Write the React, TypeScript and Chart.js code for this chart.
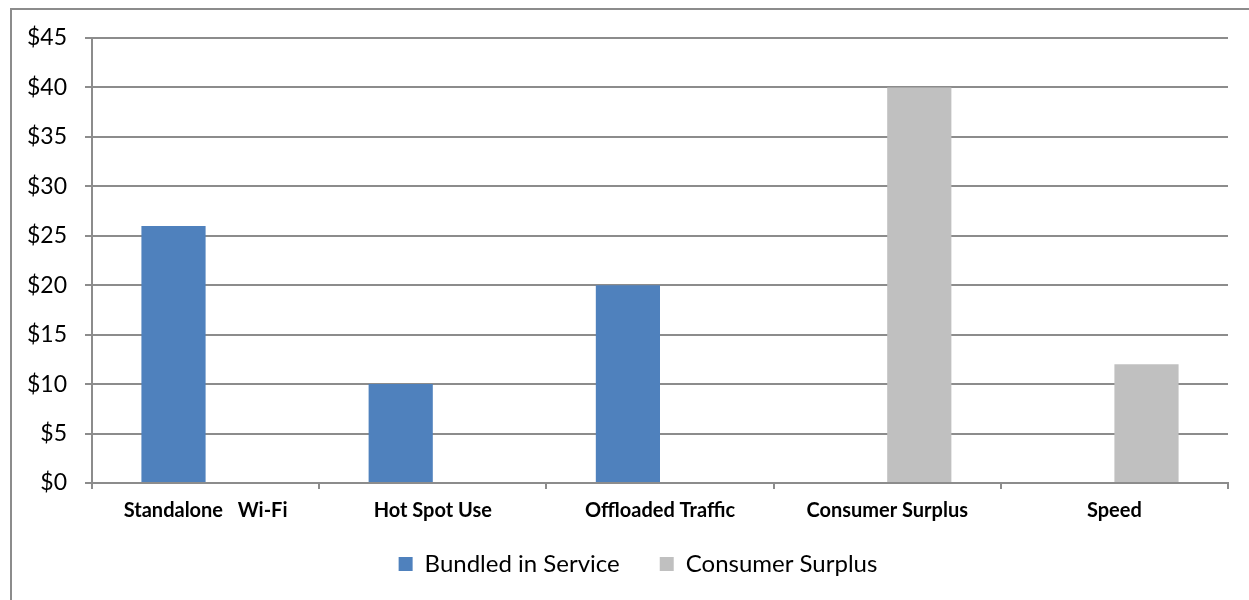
import React, { useEffect, useRef } from "react";
import { Chart, registerables } from "chart.js";

Chart.register(...registerables);

const categories = ["Standalone   Wi-Fi", "Hot Spot Use", "Offloaded Traffic", "Consumer Surplus", "Speed"];
const bundledInService = [26, 10, 20, null, null];
const consumerSurplus = [null, null, null, 40, 12];
const seriesNames = ["Bundled in Service", "Consumer Surplus"];
const yTicks = { min: 0, max: 45, step: 5 };

const FONT = "Lato, 'Liberation Sans', sans-serif";
const GRID = "#8c8c8c";
const LEGEND_PAD = 40;
const LEGEND_TRIM = 16;
const LEGEND_SHIFT = 18;

const legendTweak = {
  id: "legendTweak",
  afterInit(chart: any) {
    const legend = chart.legend;
    if (!legend) return;
    const orig = legend.fit;
    legend.fit = function () {
      orig.call(this);
      this.height -= LEGEND_TRIM;
    };
  },
  afterLayout(chart: any) {
    const legend = chart.legend;
    if (!legend) return;
    legend.top -= LEGEND_TRIM;
    legend.left += LEGEND_SHIFT;
    legend.right += LEGEND_SHIFT;
  },
};

export default function App() {
  const ref = useRef<HTMLCanvasElement | null>(null);
  useEffect(() => {
    if (!ref.current) return;
    const chart = new Chart(ref.current, {
      type: "bar",
      data: {
        labels: categories,
        datasets: [
          { label: seriesNames[0], data: bundledInService, backgroundColor: "#4F81BD" },
          { label: seriesNames[1], data: consumerSurplus, backgroundColor: "#C0C0C0" },
        ],
      },
      plugins: [legendTweak],
      options: {
        animation: false,
        responsive: false,
        maintainAspectRatio: false,
        layout: { padding: { left: 12, right: 21, top: 38, bottom: 14 } },
        datasets: { bar: { categoryPercentage: 0.565, barPercentage: 1.0 } },
        scales: {
          x: {
            grid: { drawOnChartArea: false, drawTicks: true, tickLength: 6, color: GRID, lineWidth: 2 },
            border: { color: GRID, width: 2 },
            ticks: { color: "#000", font: { family: FONT, size: 20, weight: "bold" }, padding: 10 },
            afterFit: (s: any) => { s.height = 45; },
          },
          y: {
            min: yTicks.min,
            max: yTicks.max,
            grid: { color: GRID, lineWidth: 2, tickLength: 7 },
            border: { color: GRID, width: 2 },
            ticks: {
              stepSize: yTicks.step,
              color: "#000",
              font: { family: FONT, size: 23 },
              padding: 18,
              callback: (v: any) => "$" + v,
            },
            afterFit: (s: any) => { s.width = 80; },
          },
        },
        plugins: {
          legend: {
            position: "bottom",
            labels: {
              boxWidth: 14,
              boxHeight: 14,
              color: "#000",
              padding: LEGEND_PAD,
              font: { family: FONT, size: 24 },
            },
          },
          tooltip: { enabled: false },
        },
      },
    });
    return () => chart.destroy();
  }, []);
  return (
    <div style={{ position: "fixed", left: 0, top: 0, width: 1249, height: 600, overflow: "hidden", background: "#fff" }}>
      <div style={{ position: "absolute", left: 10, top: 8, width: 1300, height: 700, border: "2px solid #8c8c8c", boxSizing: "border-box" }} />
      <canvas ref={ref} width={1249} height={600} style={{ position: "absolute", left: 0, top: 0 }} />
    </div>
  );
}
